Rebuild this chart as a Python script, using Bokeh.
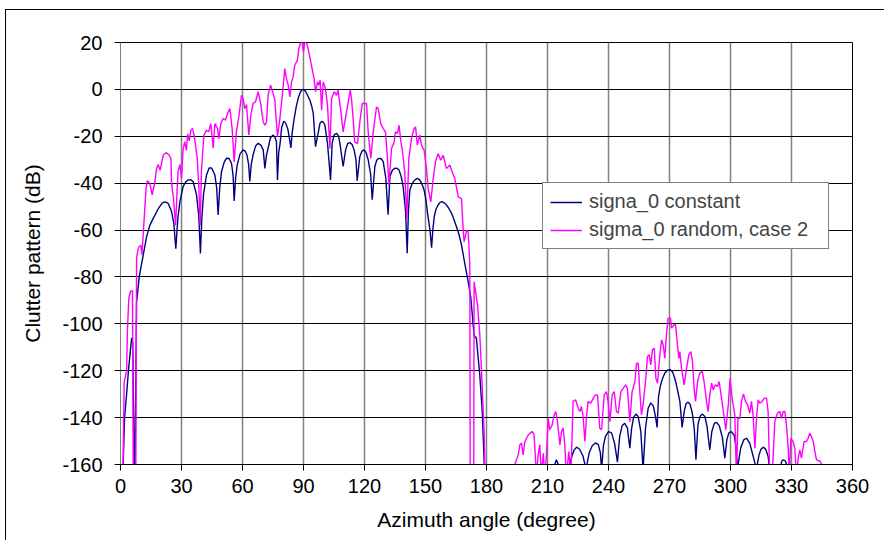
import math
from bokeh.plotting import figure
from bokeh.models import FixedTicker, Legend, LegendItem, Range1d
from bokeh.embed import file_html
from bokeh.resources import INLINE

NaN = float("nan")

x_ticks = [0, 30, 60, 90, 120, 150, 180, 210, 240, 270, 300, 330, 360]
y_ticks = [-160, -140, -120, -100, -80, -60, -40, -20, 0, 20]

series_names = ["signa_0 constant", "sigma_0 random, case 2"]

# ---- sigma_0 constant : (azimuth deg, dB) ----
const_main = [
    (0.8, -175), (1.3, -160), (2.0, -140), (3.0, -130), (4.0, -119), (5.5, -106), (6.0, -108),
    (7.0, -175), (7.9, -91), (9.2, -80), (11.1, -71), (12.8, -63), (14.4, -58), (16.1, -55),
    (18.5, -51), (20.5, -48.5), (21.8, -48), (23.4, -48.6), (25.1, -52), (26.2, -57), (27.2, -68),
    (28.2, -55), (29.2, -48), (30.8, -41.5), (32.0, -39.5), (33.3, -38.6), (34.5, -38.5),
    (35.7, -39.3), (37.4, -45), (38.5, -54), (39.3, -70), (40.0, -55), (40.8, -45), (42.3, -36.5),
    (43.6, -33.5), (44.8, -33.5), (46.4, -36.5), (47.3, -42), (48.0, -53.6), (48.8, -42),
    (49.7, -35), (51.0, -31), (52.1, -29.4), (53.4, -29.5), (54.6, -31.5), (55.4, -37),
    (55.9, -47.6), (56.6, -38), (57.4, -32.2), (58.8, -27.5), (60.3, -25.8), (61.3, -26.3),
    (62.2, -28), (63.0, -32), (63.6, -39.3), (64.3, -32), (65.2, -28), (66.5, -24), (67.7, -23),
    (69.0, -23.8), (70.2, -25.8), (71.0, -33.7), (71.8, -28), (72.6, -25), (73.8, -20.5),
    (75.1, -19.5), (76.0, -20.5), (76.7, -22.3), (77.2, -38.6), (77.8, -27), (78.4, -23.7),
    (79.3, -16), (80.3, -13.6), (81.3, -14.5), (82.3, -17), (83.1, -21), (83.8, -25), (84.5, -18),
    (85.5, -12), (86.5, -7), (87.5, -3.5), (88.5, -1), (89.3, -0.2), (90.0, 0), (91.0, -0.8),
    (92.0, -2.5), (93.1, -4.5), (94.0, -7), (94.8, -10.2), (95.9, -24.4), (97.2, -18.7),
    (98.1, -14.5), (98.9, -13.7), (99.7, -13.9), (100.5, -15.1), (101.8, -23), (103.3, -38.6),
    (104.1, -23), (105.0, -19.5), (106.2, -18.7), (107.2, -19.8), (107.9, -23), (109.5, -32.9),
    (110.7, -25.8), (111.8, -23), (112.8, -22.7), (113.9, -23.5), (114.9, -25.8), (115.8, -30),
    (116.4, -38.9), (117.7, -28.6), (118.8, -26.3), (119.8, -25.8), (120.8, -27), (121.8, -30),
    (123.0, -36), (123.8, -47.1), (125.1, -32.9), (126.0, -30.2), (127.0, -29.4), (128.2, -29.6),
    (129.2, -30.8), (130.5, -38), (131.6, -53.5), (132.5, -37.2), (133.7, -34.5), (134.9, -33.6),
    (136.0, -33.7), (136.9, -34.3), (138.0, -37), (139.0, -41.5), (140.2, -52), (141.0, -69.9),
    (141.6, -52), (142.3, -42.9), (143.5, -40), (144.8, -38.6), (146.0, -38), (147.2, -38.6),
    (148.3, -40.5), (149.3, -42.9), (150.2, -47), (151.0, -52.8), (152.2, -60), (153.0, -67.5),
    (153.6, -60), (154.3, -54.3), (155.2, -51), (156.2, -49.3), (157.2, -48.2), (158.2, -47.9),
    (159.3, -48.5), (160.3, -49.3), (161.5, -50.8), (162.8, -52.8), (164.0, -55.5), (165.2, -58.5),
    (166.5, -62), (167.7, -66.3), (169.3, -74.2), (171.0, -82), (172.3, -89), (173.9, -105),
    (175.0, -106), (176.7, -121.8), (177.9, -137.4), (178.9, -160), (179.3, -175),
]
const_far = [
    (212.5, -168), (213.6, -160), (214.4, -158), (215.3, -160), (216.4, -168), (219.5, -168),
    (220.5, -162), (221.8, -157), (223.0, -154), (224.3, -152.6), (225.8, -153.5), (227.5, -156.5),
    (228.9, -162), (230.5, -155), (232.0, -152), (233.6, -150.8), (235.0, -151.5), (236.0, -155),
    (236.6, -162), (237.5, -152), (238.5, -148), (240.0, -146), (241.5, -146.5), (243.0, -151),
    (244.4, -159), (245.5, -148), (246.7, -143.5), (248.0, -142.4), (249.3, -144.5), (250.5, -153),
    (251.3, -145), (252.3, -140), (253.5, -138.5), (254.6, -139.5), (255.9, -146), (257.0, -162),
    (258.2, -144.5), (259.5, -136), (260.8, -133.7), (262.0, -135), (263.0, -139), (263.9, -144.2),
    (264.6, -131), (265.5, -126.5), (266.5, -123.5), (267.7, -121), (269.0, -119.8), (270.2, -119.5),
    (271.5, -120.5), (272.5, -123), (273.4, -126), (275.1, -133.1), (276.2, -144.2), (277.3, -137),
    (278.2, -134), (279.2, -133.4), (280.2, -134.5), (281.2, -138), (282.2, -145), (283.0, -158),
    (284.0, -143), (285.0, -139.5), (286.1, -138.5), (287.4, -139.5), (288.5, -144), (289.8, -153.8),
    (290.8, -146), (292.0, -142.5), (293.1, -142), (294.5, -143.5), (296.0, -148.5), (297.2, -157.3),
    (298.2, -149.5), (299.2, -146.5), (300.4, -146), (301.8, -147.5), (302.8, -153), (303.4, -162),
    (305.0, -153), (306.5, -149.5), (307.9, -148.8), (309.5, -151), (311.0, -156), (312.8, -162),
    (314.0, -156), (315.0, -153.5), (316.1, -152.6), (317.3, -153.5), (318.5, -156.5), (319.3, -162),
    (321.0, -168), (324.5, -162), (325.2, -158.5), (326.0, -158), (327.0, -158.5), (328.4, -162),
    (329.0, -168),
]

# ---- sigma_0 random, case 2 : (azimuth deg, dB) ----
rand_main = [
    (1.0, -175), (1.3, -158), (1.8, -125), (3.0, -120), (3.4, -103), (4.1, -89), (5.0, -86),
    (5.9, -86), (6.3, -175), (7.5, -175), (7.9, -72), (8.7, -68), (9.2, -67), (10.0, -66.5),
    (10.5, -70.5), (11.1, -63), (12.0, -50), (12.6, -42), (13.2, -39), (14.4, -40), (15.6, -45),
    (16.9, -39.5), (17.7, -34), (18.5, -32), (19.5, -34.5), (21.0, -28), (22.6, -27), (23.9, -28),
    (24.8, -29.5), (25.1, -40), (26.0, -46), (27.1, -58), (27.9, -42), (28.3, -35), (29.2, -32),
    (30.0, -38), (30.8, -25.5), (31.6, -22.3), (32.4, -26), (33.0, -19), (33.8, -22), (34.6, -17.5),
    (35.4, -16.6), (36.2, -19.5), (36.9, -24), (37.7, -29), (38.5, -41), (39.2, -58), (39.8, -35),
    (41.0, -19.5), (42.3, -17.5), (43.4, -18), (44.4, -14.6), (45.6, -25), (46.4, -14.6),
    (47.7, -16.7), (48.4, -21), (49.3, -14.6), (50.5, -12.4), (51.6, -13.1), (53.0, -9.6),
    (53.8, -8.2), (54.9, -16.7), (55.9, -31), (57.0, -18), (58.2, -11.7), (59.5, -2.5), (60.3, -3.9),
    (61.1, -8.2), (62.0, -6.5), (63.1, -19.5), (64.1, -11), (65.2, -6), (66.4, -5.3), (67.7, -1),
    (68.9, -6), (70.2, -13.9), (71.0, -15.3), (71.8, -13.9), (72.6, -2.5), (73.8, 1.8), (75.1, -1.8),
    (75.9, -4.6), (77.2, -20.3), (78.4, -12.4), (79.5, -3.2), (80.8, 8.9), (81.6, 4.6), (82.5, 1.8),
    (83.3, -3.2), (84.1, 3.2), (84.9, 5.3), (85.7, 10.3), (87.0, 12.5), (87.7, 17.4), (88.7, 20.3),
    (89.3, 20), (90.0, 16), (90.7, 20.5), (91.5, 20), (92.6, 16), (93.9, 10.3), (95.2, 4.6),
    (95.9, -1), (96.9, 3.2), (97.5, 1.8), (98.2, 3.9), (98.9, -8.9), (99.7, 3.2), (100.8, 0.4),
    (101.8, -6.7), (103.0, -25.2), (103.8, -3.9), (105.1, -1), (106.2, -2.5), (107.0, -0.3),
    (108.4, -9.6), (109.5, -18.1), (110.3, -13.9), (112.0, -5.3), (113.0, -0.3), (113.6, -3.9),
    (114.4, -12.4), (115.2, -22.4), (116.6, -23.1), (117.7, -13.9), (118.9, -6), (120.2, -6),
    (121.0, -6), (121.8, -18.1), (123.1, -29.5), (124.3, -18.1), (125.9, -7.5), (126.7, -8.2),
    (128.0, -14.6), (129.2, -16.7), (130.3, -18.1), (131.3, -29.5), (132.0, -40.9), (133.3, -25.2),
    (134.6, -22.4), (135.2, -18.1), (136.2, -18.8), (137.0, -15.3), (137.9, -22.4), (138.5, -25.2),
    (139.8, -35.2), (140.8, -55.1), (141.8, -29.5), (143.1, -21), (144.4, -16.7), (145.1, -16),
    (146.0, -23.8), (147.2, -19.5), (148.0, -23.8), (149.3, -25.9), (150.5, -33.8), (151.3, -42.3),
    (152.6, -48), (153.8, -38), (154.9, -30.9), (156.2, -27.4), (157.5, -30.2), (158.7, -28.1),
    (160.3, -33.8), (162.0, -32.3), (163.1, -35.2), (164.4, -38), (166.1, -45.9), (167.7, -46.6),
    (168.5, -59.4), (169.0, -65), (170.2, -60.1), (171.0, -60.8), (171.8, -75), (172.0, -175),
    (173.7, -175), (173.9, -82), (175.6, -92), (176.7, -104.7), (177.5, -119), (178.9, -147.6),
    (179.5, -175),
]
rand_far = [
    (193.0, -170), (193.9, -160), (195.6, -155.9), (196.4, -151.6), (197.2, -150.9), (198.0, -155.9),
    (198.9, -150.2), (200.5, -147.4), (202.5, -145.9), (203.4, -147.4), (204.6, -165), (205.4, -155.9),
    (206.2, -151.6), (207.0, -165), (207.9, -155.2), (208.7, -165), (209.5, -155.9), (210.3, -140.3),
    (211.1, -145.2), (212.3, -143.1), (213.3, -138.8), (214.1, -137.4), (214.9, -141.7), (216.1, -151.6),
    (216.9, -145.9), (217.7, -144.5), (218.5, -151.6), (219.3, -165), (220.5, -154.5), (221.5, -165),
    (222.6, -133.1), (223.8, -132.4), (225.1, -136), (225.9, -137.4), (226.7, -135.3), (227.5, -139.5),
    (228.4, -150.2), (229.2, -139.5), (230.0, -133.1), (231.3, -133.9), (232.5, -131.7), (233.6, -130.3),
    (234.6, -130.3), (235.7, -144.5), (236.6, -145.2), (237.9, -130.3), (239.0, -128.9), (239.8, -133.1),
    (240.7, -141.7), (241.8, -130.3), (242.8, -128.9), (243.9, -137.4), (244.8, -138.1), (246.1, -128.9),
    (247.2, -127.5), (248.4, -126), (249.3, -127.5), (250.5, -141.7), (251.6, -128.9), (253.0, -124.6),
    (253.8, -116.8), (254.6, -116.8), (255.4, -128.9), (256.2, -138.8), (257.0, -134.6), (258.2, -124.6),
    (259.2, -113.9), (260.0, -113.2), (260.8, -117.5), (261.6, -111.1), (262.5, -110.4), (263.3, -123.2),
    (264.1, -125.3), (265.2, -113.9), (266.1, -106.8), (266.9, -109), (267.7, -114.7), (268.5, -104.7),
    (269.3, -97.6), (270.5, -97.6), (271.0, -101.8), (272.3, -100.4), (273.0, -100.4), (273.9, -109),
    (274.6, -114.7), (275.1, -111.8), (275.9, -118.9), (277.2, -126), (278.4, -118.9), (279.5, -113.2),
    (280.5, -111.8), (281.3, -116.1), (282.1, -127.5), (282.8, -133.1), (283.8, -124.6), (284.9, -121),
    (286.1, -120.3), (287.0, -124.6), (288.2, -133.1), (289.0, -137.4), (289.8, -130.3), (290.7, -125.3),
    (291.5, -128.2), (292.6, -126), (293.6, -126.7), (294.4, -124.6), (295.6, -131.7), (296.7, -138.8),
    (297.7, -145.2), (298.9, -134.6), (299.8, -123.2), (300.8, -131.7), (302.1, -138.8), (302.9, -165),
    (303.7, -140.3), (304.6, -140.3), (305.4, -133.1), (306.4, -130), (307.4, -133.1), (308.4, -134.6),
    (309.5, -138.1), (310.3, -133.1), (311.1, -138.8), (312.0, -153), (312.8, -140.3), (313.6, -132.4),
    (314.4, -133.9), (315.6, -133.1), (316.6, -131.7), (317.7, -131.7), (318.5, -137.4), (319.3, -165),
    (320.5, -165), (321.8, -141.7), (323.1, -138.1), (324.3, -137.4), (325.1, -140.3), (325.9, -137.4),
    (326.7, -137.4), (327.5, -143.1), (328.4, -153), (328.9, -165), (329.7, -148.8), (330.8, -150.2),
    (331.6, -153), (332.5, -165), (333.3, -157.3), (334.1, -153.8), (334.9, -157.3), (336.2, -150.2),
    (337.4, -150.2), (338.2, -148.8), (339.0, -146.7), (339.8, -148.1), (340.7, -150.2), (341.5, -154.5),
    (342.3, -158), (344.0, -158.5), (344.8, -160), (345.2, -170),
]


def join(*segments):
    xs, ys = [], []
    for i, seg in enumerate(segments):
        if i:
            xs.append(NaN)
            ys.append(NaN)
        xs += [a for a, _ in seg]
        ys += [d for _, d in seg]
    return xs, ys


cx, cy = join(const_main, const_far)
rx, ry = join(rand_main, rand_far)

FONT = "Liberation Sans"

p = figure(width=879, height=531, margin=(9, 0, 0, 5),
           x_range=Range1d(0, 360), y_range=Range1d(-160, 20),
           output_backend="svg", toolbar_location=None,
           min_border_left=114, min_border_right=33, min_border_top=32, min_border_bottom=77,
           background_fill_color="white", border_fill_color="white",
           outline_line_color="#000000", outline_line_width=1,
           styles={"border-left": "1px solid #000", "border-top": "1px solid #000"})

p.xaxis.ticker = FixedTicker(ticks=x_ticks)
p.yaxis.ticker = FixedTicker(ticks=y_ticks)
p.xgrid.ticker = FixedTicker(ticks=x_ticks)
p.ygrid.ticker = FixedTicker(ticks=y_ticks)
p.xaxis.major_label_overrides = {t: str(t) for t in x_ticks}
p.yaxis.major_label_overrides = {t: str(t) for t in y_ticks}
p.xgrid.grid_line_color = "#808080"
p.xgrid.grid_line_width = 1.5
p.ygrid.grid_line_color = "#000000"
p.ygrid.grid_line_width = 1

for ax in (p.xaxis, p.yaxis):
    ax.major_label_text_font = FONT
    ax.major_label_text_font_size = "20px"
    ax.major_label_text_color = "#000000"
    ax.axis_label_text_font = FONT
    ax.axis_label_text_font_size = "21px"
    ax.axis_label_text_font_style = "normal"
    ax.axis_label_text_color = "#000000"
    ax.major_tick_in = 0
    ax.major_tick_out = 6
    ax.minor_tick_line_color = None
    ax.major_tick_line_color = "#000000"

p.xaxis.axis_line_color = "#000000"
p.yaxis.axis_line_color = "#808080"
p.xaxis.axis_label = "Azimuth angle (degree)"
p.yaxis.axis_label = "Clutter pattern (dB)"
p.xaxis.major_label_standoff = 8
p.yaxis.major_label_standoff = 12
p.xaxis.axis_label_standoff = 12
p.yaxis.axis_label_standoff = 15

r1 = p.line(cx, cy, line_color="#000080", line_width=1.4)
r2 = p.line(rx, ry, line_color="#FF00FF", line_width=1.4)

legend = Legend(items=[LegendItem(label=series_names[0], renderers=[r1]),
                       LegendItem(label=series_names[1], renderers=[r2])],
                location=(422, 215), orientation="vertical",
                label_text_font=FONT, label_text_font_size="20px",
                glyph_width=32, glyph_height=22, label_height=22, label_standoff=7,
                label_width=232, spacing=5, padding=7, margin=0,
                border_line_color="#000000", border_line_width=1,
                background_fill_color="white", background_fill_alpha=1.0)
p.add_layout(legend, "center")

open("out.html", "w").write(file_html(p, INLINE))
